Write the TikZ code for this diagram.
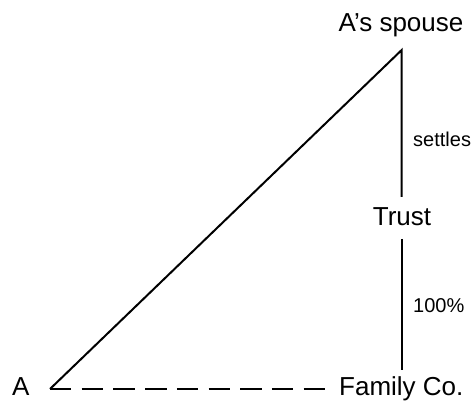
\documentclass[tikz,border=0pt]{standalone}
\usepackage{fontspec}
\setmainfont{Liberation Sans}
\begin{document}
\begin{tikzpicture}[x=1pt,y=-1pt,
  bigtext/.style={inner sep=0pt,font=\fontsize{26}{30}\selectfont},
  smalltext/.style={inner sep=0pt,font=\fontsize{20}{24}\selectfont},
  link/.style={line width=2pt,line cap=butt,line join=miter},
  ownlink/.style={link,dash pattern=on 21.4pt off 10.3pt}]
  \useasboundingbox (0,0) rectangle (475,403);

  % parties
  \node[bigtext,anchor=base] (spouse) at (401,32) {A’s spouse};
  \node[bigtext,anchor=base] (trust) at (402,226) {Trust};
  \node[bigtext,anchor=base west] (famco) at (339,396) {Family Co.};
  \node[bigtext,anchor=base west] (a) at (12,396) {A};

  % line end points
  \coordinate (apex) at (401.7,50);
  \coordinate (trustTop) at (401.7,197);
  \coordinate (trustBot) at (401.7,239);
  \coordinate (famTop) at (401.7,370);
  \coordinate (aCorner) at (50,389);
  \coordinate (famLeft) at (325,389);

  % relationships
  \draw[link] (aCorner) -- (apex) -- (trustTop);
  \draw[link] (trustBot) -- (famTop);
  \draw[ownlink] (aCorner) -- (famLeft);

  % labels
  \node[smalltext,anchor=base west] (settles) at (413,147) {settles};
  \node[smalltext,anchor=base west] (pct) at (413,313) {100\%};
\end{tikzpicture}
\end{document}
